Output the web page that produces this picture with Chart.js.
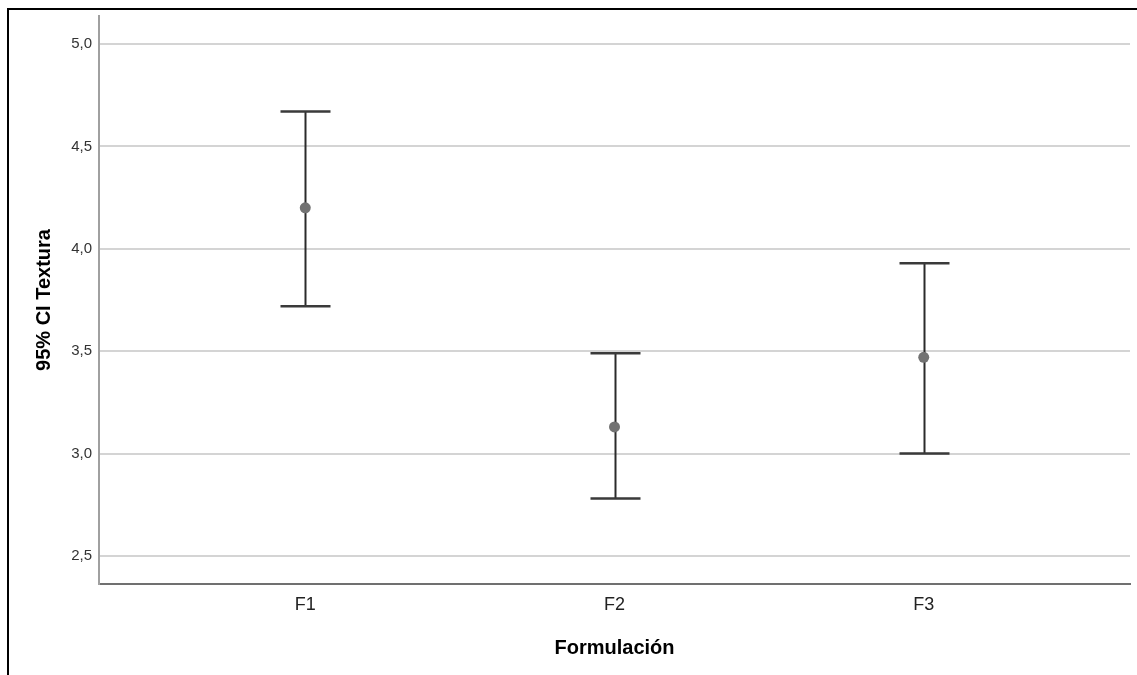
<!DOCTYPE html>
<html>
<head>
<meta charset="utf-8">
<script src="https://cdn.jsdelivr.net/npm/chart.js@4/dist/chart.umd.min.js"></script>
<style>
  html, body { margin: 0; padding: 0; background: #fff; }
  #wrap { position: relative; width: 1137px; height: 675px; overflow: hidden; }
  #frame { position: absolute; left: 7px; top: 8px; width: 1140px; height: 680px;
           border-top: 2px solid #000; border-left: 2px solid #000; box-sizing: border-box; }
  canvas { position: absolute; left: 0; top: 0; }
</style>
</head>
<body>
<div id="wrap">
  <div id="frame"></div>
  <canvas id="c" width="1137" height="675"></canvas>
</div>
<script>
const categories = ['F1', 'F2', 'F3'];
const means = [4.20, 3.13, 3.47];
const lower = [3.72, 2.78, 3.00];
const upper = [4.67, 3.49, 3.93];
const yTicks = [2.5, 3.0, 3.5, 4.0, 4.5, 5.0];
const xTitle = 'Formulación';
const yTitle = '95% CI Textura';

const FONT = "'Liberation Sans', Arial, sans-serif";

const errorBars = {
  id: 'errorBars',
  beforeDatasetsDraw(chart) {
    const { ctx, scales: { x, y } } = chart;
    ctx.save();
    categories.forEach((c, i) => {
      const px = Math.round(x.getPixelForValue(i)) + 0.5;
      const yl = y.getPixelForValue(lower[i]);
      const yu = y.getPixelForValue(upper[i]);
      ctx.strokeStyle = '#2b2b2b';
      ctx.lineWidth = 2;
      ctx.beginPath();
      ctx.moveTo(px, yu);
      ctx.lineTo(px, yl);
      ctx.stroke();
      ctx.strokeStyle = '#3a3a3a';
      ctx.lineWidth = 2.5;
      ctx.beginPath();
      ctx.moveTo(px - 25, yu); ctx.lineTo(px + 25, yu);
      ctx.moveTo(px - 25, yl); ctx.lineTo(px + 25, yl);
      ctx.stroke();
    });
    ctx.restore();
  }
};

new Chart(document.getElementById('c'), {
  type: 'scatter',
  data: {
    datasets: [{
      data: categories.map((c, i) => ({ x: i, y: means[i] })),
      pointRadius: 5.5,
      pointHoverRadius: 5.5,
      pointBackgroundColor: '#727272',
      pointBorderWidth: 0
    }]
  },
  options: {
    responsive: false,
    animation: false,
    events: [],
    layout: { padding: { left: 0, top: 16, right: 7, bottom: 0 } },
    plugins: { legend: { display: false }, tooltip: { enabled: false } },
    scales: {
      x: {
        type: 'linear',
        min: -0.667,
        max: 2.667,
        afterBuildTicks(s) { s.ticks = categories.map((c, i) => ({ value: i })); },
        afterFit(s) { s.height = 91; },
        grid: { display: false, drawTicks: false },
        border: { display: true, color: '#707070', width: 2 },
        ticks: {
          padding: 10,
          color: '#222',
          font: { family: FONT, size: 18 },
          callback: (v) => categories[v]
        },
        title: {
          display: true,
          text: xTitle,
          color: '#000',
          font: { family: FONT, size: 20, weight: 'bold' },
          padding: { top: 0, bottom: 15 }
        }
      },
      y: {
        min: 2.363,
        max: 5.137,
        afterBuildTicks(s) { s.ticks = yTicks.map(v => ({ value: v })); },
        afterFit(s) { s.width = 99; },
        grid: { color: '#d4d4d4', lineWidth: 2, drawTicks: false },
        border: { display: true, color: '#a0a0a0', width: 2 },
        ticks: {
          padding: 7,
          color: '#333',
          font: { family: FONT, size: 15 },
          callback: (v) => v.toFixed(1).replace('.', ',')
        },
        title: {
          display: true,
          text: yTitle,
          color: '#000',
          font: { family: FONT, size: 20, weight: 'bold' },
          padding: { top: 32, bottom: 0 }
        }
      }
    }
  },
  plugins: [errorBars]
});
</script>
</body>
</html>
